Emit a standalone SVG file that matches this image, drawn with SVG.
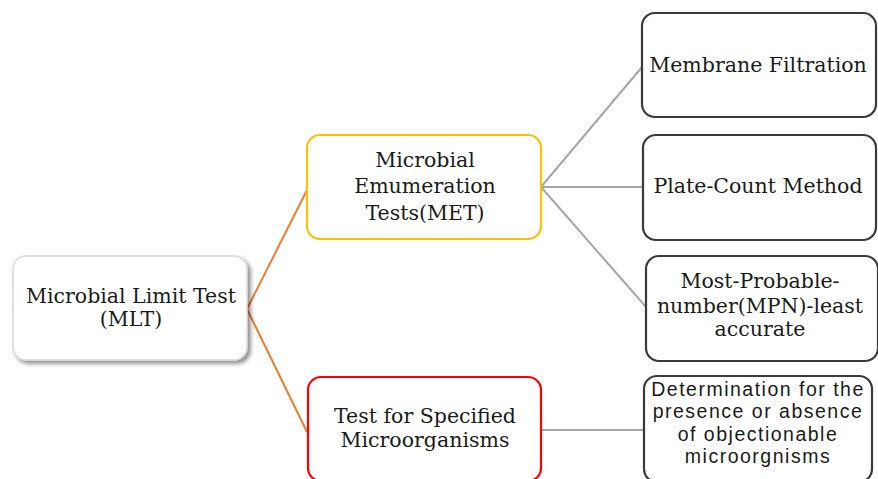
<svg xmlns="http://www.w3.org/2000/svg" width="878" height="479" viewBox="0 0 878 479">
<defs>
<filter id="sh" x="-10%" y="-10%" width="130%" height="130%">
<feGaussianBlur in="SourceAlpha" stdDeviation="2"/>
<feOffset dx="3" dy="3" result="b"/>
<feComponentTransfer><feFuncA type="linear" slope="0.45"/></feComponentTransfer>
<feMerge><feMergeNode/><feMergeNode in="SourceGraphic"/></feMerge>
</filter>
</defs>
<style>
.bg{fill:#ffffff}
.box{fill:#ffffff;stroke-width:2.2}
.dk{stroke:#3a3a3a}
.yl{stroke:#ffc000}
.rd{stroke:#ff0000}
.mlt{stroke:#d9d9d9;stroke-width:1.5}
.t{font-family:"DejaVu Serif","Liberation Serif",serif;font-size:20.5px;fill:#1a1a1a;text-anchor:middle}
.s{font-family:"Liberation Sans","Open Sans",sans-serif;font-size:19.5px;letter-spacing:1.5px;fill:#1a1a1a;text-anchor:middle}
.or{stroke:#ed7d31;stroke-width:2;fill:none}
.gr{stroke:#a6a6a6;stroke-width:2;fill:none}
</style>
<rect class="bg" width="878" height="479"/>
<g id="connectors">
<line class="or" x1="247" y1="309" x2="307" y2="190"/>
<line class="or" x1="247" y1="309" x2="307" y2="432"/>
<line class="gr" x1="541" y1="187" x2="642" y2="67"/>
<line class="gr" x1="541" y1="187" x2="643" y2="187"/>
<line class="gr" x1="541" y1="187" x2="646" y2="307"/>
<line class="gr" x1="541" y1="430" x2="644" y2="430"/>
</g>
<g id="mlt">
<rect class="box mlt" x="13" y="256" width="234" height="104" rx="13" filter="url(#sh)"/>
<text class="t" x="131" y="303">Microbial Limit Test</text>
<text class="t" x="131" y="326">(MLT)</text>
</g>
<g id="met">
<rect class="box yl" x="307" y="135" width="234" height="104" rx="13"/>
<text class="t" x="425" y="167">Microbial</text>
<text class="t" x="425" y="193">Emumeration</text>
<text class="t" x="425" y="220">Tests(MET)</text>
</g>
<g id="tsm">
<rect class="box rd" x="308" y="377" width="233" height="104" rx="13"/>
<text class="t" x="425" y="423">Test for Specified</text>
<text class="t" x="425" y="447">Microorganisms</text>
</g>
<g id="mf">
<rect class="box dk" x="642" y="13" width="234" height="104" rx="13"/>
<text class="t" x="758" y="72">Membrane Filtration</text>
</g>
<g id="pc">
<rect class="box dk" x="643" y="135" width="233" height="105" rx="13"/>
<text class="t" x="758" y="193">Plate-Count Method</text>
</g>
<g id="mpn">
<rect class="box dk" x="646" y="256" width="232" height="105" rx="13"/>
<text class="t" x="760" y="288">Most-Probable-</text>
<text class="t" x="760" y="313">number(MPN)-least</text>
<text class="t" x="760" y="336">accurate</text>
</g>
<g id="det">
<rect class="box dk" x="644" y="376" width="228" height="106" rx="13"/>
<text class="s" x="758" y="396">Determination for the</text>
<text class="s" x="758" y="418">presence or absence</text>
<text class="s" x="758" y="441">of objectionable</text>
<text class="s" x="758" y="463">microorgnisms</text>
</g>
</svg>
